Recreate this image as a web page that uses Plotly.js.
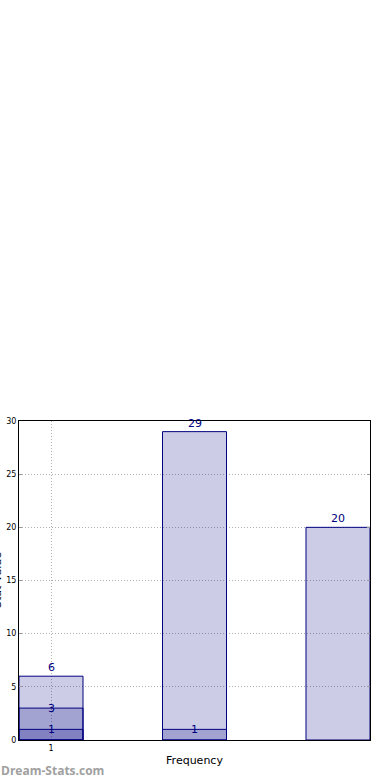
<!DOCTYPE html>
<html>
<head>
<meta charset="utf-8">
<script src="https://cdn.plot.ly/plotly-3.0.1.min.js"></script>
<style>
html,body{margin:0;padding:0;background:#fff;}
#chart{width:390px;height:780px;}
</style>
</head>
<body>
<div id="chart"></div>
<script>
// ---- data ----
const categories = ["1", "2", "3"];
const seriesOuter = [6, 29, 20];
const seriesMiddle = [3, 1, null];
const seriesInner = [1, null, null];
const xTickLabels = ["1"];
const yTickValues = [0, 5, 10, 15, 20, 25, 30];
const xTitle = "Frequency";
const yTitle = "Stat Value";
const watermark = "Dream-Stats.com";

const navy = "#000080";
const fill = "rgba(0,0,128,0.2)";

function barTrace(vals) {
  return {
    type: "bar",
    x: categories,
    y: vals,
    marker: {color: fill, line: {color: navy, width: 1}},
    hoverinfo: "none",
    showlegend: false
  };
}

const traces = [barTrace(seriesOuter), barTrace(seriesMiddle), barTrace(seriesInner)];

const annotations = [];
function addLabels(vals, anchor, shift) {
  vals.forEach((v, i) => {
    if (v === null || v === undefined) return;
    annotations.push({
      x: i, y: v, xref: "x", yref: "y",
      text: String(v), showarrow: false,
      yanchor: anchor, yshift: shift,
      font: {family: "DejaVu Sans", size: 11, color: navy}
    });
  });
}
addLabels(seriesOuter, "bottom", 0);
addLabels(seriesMiddle, "middle", 0);
addLabels(seriesInner, "middle", 0);

annotations.push({
  xref: "paper", yref: "paper", x: 0, y: 0.5,
  xanchor: "right", yanchor: "middle", xshift: -13,
  textangle: -90, showarrow: false, text: yTitle,
  font: {family: "DejaVu Sans", size: 11, color: "#000"}
});
annotations.push({
  xref: "paper", yref: "paper", x: 0, y: 0,
  xanchor: "left", yanchor: "middle", xshift: -20, yshift: -30,
  showarrow: false, text: "<b>" + watermark + "</b>",
  font: {family: "Open Sans", size: 12, color: "#a0a0a0"}
});

const layout = {
  width: 390, height: 780,
  margin: {l: 19, r: 20, t: 421, b: 40, pad: 0},
  paper_bgcolor: "#fff", plot_bgcolor: "#fff",
  barmode: "overlay",
  bargap: 0.554,
  showlegend: false,
  font: {family: "DejaVu Sans", color: "#000"},
  xaxis: {
    type: "category",
    range: [-0.223, 2.223],
    tickvals: [categories[0]],
    ticktext: xTickLabels,
    tickfont: {size: 8, family: "DejaVu Sans", color: "#000"},
    ticks: "",
    showgrid: true, gridcolor: "#b0b0b0", griddash: "1px,2px", gridwidth: 1,
    showline: true, linecolor: "#000", linewidth: 1, mirror: true,
    zeroline: false,
    automargin: false,
    title: {text: xTitle, font: {size: 11, family: "DejaVu Sans", color: "#000"}, standoff: 4}
  },
  yaxis: {
    range: [0, 30],
    tickvals: yTickValues,
    tickfont: {size: 8, family: "DejaVu Sans", color: "#000"},
    ticks: "inside", ticklen: 3, tickcolor: "#999",
    showgrid: true, gridcolor: "#b0b0b0", griddash: "1px,2px", gridwidth: 1,
    showline: true, linecolor: "#000", linewidth: 1, mirror: "ticks",
    zeroline: false,
    automargin: false
  },
  annotations: annotations
};

Plotly.newPlot("chart", traces, layout, {displayModeBar: false, staticPlot: true});
</script>
</body>
</html>
